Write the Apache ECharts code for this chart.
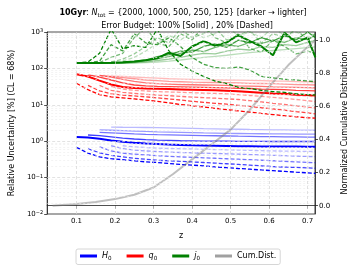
<!DOCTYPE html>
<html><head><meta charset="utf-8">
<script src="https://cdn.jsdelivr.net/npm/echarts@6/dist/echarts.min.js"></script>
<style>html,body{margin:0;padding:0;background:#fff}#c{width:357px;height:268px}</style>
</head><body><div id="c"></div>
<script>
// ---------------- data ----------------
const zGrid = [0.10,0.13,0.16,0.19,0.22,0.25,0.28,0.31,0.34,0.37,0.40,0.43,0.46,0.49,0.52,0.55,0.58,0.61,0.64,0.67,0.70,0.72];
const nTot = [2000, 1000, 500, 250, 125];

// H0, error budget 100% (solid), darker -> lighter
const H0_100 = [
  [1.30,1.27,1.17,1.05,0.97,0.91,0.87,0.84,0.81,0.79,0.77,0.76,0.75,0.74,0.73,0.73,0.72,0.72,0.71,0.71,0.70,0.70],
  [null,1.48,1.42,1.32,1.22,1.15,1.10,1.07,1.05,1.03,1.02,1.01,1.00,1.00,0.99,0.99,0.99,0.98,0.98,0.98,0.98,0.98],
  [null,null,1.75,1.70,1.64,1.58,1.54,1.51,1.49,1.47,1.45,1.43,1.41,1.39,1.37,1.36,1.34,1.33,1.32,1.31,1.30,1.30],
  [null,null,2.05,2.00,1.95,1.90,1.85,1.81,1.78,1.75,1.72,1.69,1.67,1.65,1.63,1.61,1.60,1.59,1.58,1.57,1.56,1.56],
  [null,null,null,2.45,2.42,2.40,2.38,2.36,2.33,2.30,2.26,2.22,2.19,2.16,2.13,2.10,2.08,2.06,2.04,2.02,2.01,2.00]
];
// H0, error budget 20% (dashed)
const H0_20 = [
  [0.68,0.47,0.37,0.33,0.31,0.29,0.27,0.26,0.245,0.23,0.22,0.21,0.197,0.187,0.178,0.17,0.162,0.155,0.148,0.141,0.135,0.131],
  [null,0.62,0.48,0.41,0.37,0.34,0.32,0.30,0.29,0.28,0.27,0.26,0.25,0.24,0.23,0.22,0.21,0.20,0.195,0.19,0.185,0.18],
  [null,null,0.70,0.54,0.47,0.44,0.42,0.40,0.385,0.37,0.36,0.35,0.34,0.33,0.32,0.31,0.30,0.29,0.28,0.27,0.26,0.256],
  [null,null,null,0.75,0.63,0.57,0.54,0.52,0.50,0.49,0.48,0.47,0.46,0.45,0.44,0.43,0.42,0.41,0.40,0.39,0.38,0.375],
  [null,null,null,null,0.75,0.70,0.67,0.65,0.63,0.62,0.61,0.60,0.59,0.58,0.57,0.56,0.55,0.54,0.535,0.53,0.525,0.52]
];
// q0, 100% (solid)
const q0_100 = [
  [69,60,46,36,31,29,28,27.5,27,26.5,26,25.5,25,24.5,23.5,22.5,21.5,20.5,20,19,18.5,18],
  [null,66,58,48,40,35,33,32,31.5,31,30.5,30,29.5,29,28.5,28,27,26.5,26,25,24.5,24],
  [null,null,64,58,50,44,40,38,37,36,35.5,35,34.5,34,33,32.5,32,31,30.5,30,29.5,29],
  [null,null,62,60,56,52,48,46,44,43,42,41.5,41,40.5,40,39,38.5,38,37,36,35.5,35],
  [null,null,null,61,60,58,56,54,52,51,50,49,48.5,48,47.5,47,46,45,44.5,43.5,43,42]
];
// q0, 20% (dashed)
const q0_20 = [
  [39,26,19,16.5,15.5,14.5,13.5,12.5,11.3,10.2,9.4,8.7,8.0,7.4,6.8,6.3,5.8,5.4,5.0,4.7,4.4,4.3],
  [null,34,24,20,18.5,17.5,16.5,15.5,14.5,13.5,12.5,11.7,11,10.4,9.7,9,8.3,7.7,7.1,6.5,6.0,5.6],
  [null,null,34,25,22,20.5,19.5,18.5,17.8,17,16.3,15.7,15.2,14.6,14,13,12,11,10.2,9.4,8.6,8.2],
  [null,null,null,32,27,25,24,23,22.5,22,21.5,21,20.5,20,19,18,17,16,15,14,13,12.2],
  [null,null,null,null,30,29,28,27.5,27,26.5,26,25.5,25,24,23,22,21,20,19,18,17.3,16.7]
];
// j0, 100% (solid)
const j0_100 = [
  [140,140,141,143,147,155,168,190,270,220,400,560,420,520,820,560,400,230,950,520,700,200],
  [null,138,140,142,146,155,170,210,240,300,280,400,470,380,600,500,700,560,800,600,1000,700],
  [null,null,138,140,143,150,165,185,210,260,320,290,380,450,400,520,480,600,520,700,620,800],
  [null,null,137,138,140,145,152,165,180,200,230,260,250,300,340,320,400,380,450,420,520,600],
  [null,null,null,137,138,140,145,150,158,170,185,200,215,230,250,270,290,310,330,350,370,390]
];
// j0, 20% (dashed)
const j0_20 = [
  [140,150,260,1200,350,420,380,1200,300,130,85,60,45,38,30,28,25,23,22,20,19,18.6],
  [null,140,160,450,300,900,500,450,700,400,200,130,105,100,110,90,60,55,50,48,45,43],
  [null,null,145,200,260,700,1300,500,400,900,600,1500,700,500,900,350,280,600,400,250,300,260],
  [null,null,null,150,180,250,400,700,500,1200,700,900,1300,600,800,1100,500,900,700,1200,600,900],
  [null,null,null,null,160,200,300,500,800,600,1000,700,900,1400,800,1000,700,1300,800,1000,700,900]
];
// cumulative distribution (right axis)
const cumZ = [0.038,0.10,0.15,0.20,0.25,0.30,0.35,0.40,0.45,0.50,0.55,0.60,0.65,0.70,0.72];
const cumV = [0.0,0.01,0.022,0.04,0.066,0.11,0.19,0.28,0.37,0.46,0.58,0.72,0.85,0.96,1.0];

const xTicks = [0.1,0.2,0.3,0.4,0.5,0.6,0.7];
const yRightTicks = [0.0,0.2,0.4,0.6,0.8,1.0];
const yMajor = [0.1,1,10,100];
const legendNames = ['H0','q0','j0','Cum.Dist.'];

// ---------------- build ----------------
const FONT = 'DejaVu Sans';
const alphas = [1, 0.75, 0.55, 0.4, 0.27];
const params = [
  {key:'H0', rgb:'0,0,255', s:H0_100, d:H0_20},
  {key:'q0', rgb:'255,0,0', s:q0_100, d:q0_20},
  {key:'j0', rgb:'0,128,0', s:j0_100, d:j0_20}
];
const yMinor = [];
for (let k=-2;k<=2;k++) for (let d=2; d<=9; d++) yMinor.push(+(d*Math.pow(10,k)).toPrecision(3));

const series = [];
series.push({
  type:'line', name:'_grid', data:[], yAxisIndex:0, z:1, silent:true,
  markLine:{silent:true, animation:false, symbol:['none','none'], label:{show:false},
    data: [
      ...yMinor.map(v=>({yAxis:v, lineStyle:{color:'#ebebeb', width:0.6, type:[2,2]}})),
      ...yMajor.map(v=>({yAxis:v, lineStyle:{color:'#d6d6d6', width:0.7, type:[3,2]}})),
      ...xTicks.map(v=>({xAxis:v, lineStyle:{color:'#d6d6d6', width:0.7, type:[3,2]}}))
    ]}
});
params.forEach(p=>{
  for (let k=0;k<5;k++){
    const col = `rgba(${p.rgb},${alphas[k]})`;
    series.push({type:'line', name: k===0 ? p.key : p.key+'_'+nTot[k]+'_100', yAxisIndex:0,
      data: zGrid.map((z,i)=>[z, p.s[k][i]]), symbol:'none', silent:true, z:3,
      color: col, lineStyle:{color:col, width: k===0?2:1.3, type:'solid'}});
    series.push({type:'line', name: p.key+'_'+nTot[k]+'_20', yAxisIndex:0,
      data: zGrid.map((z,i)=>[z, p.d[k][i]]), symbol:'none', silent:true, z:3,
      color: col, lineStyle:{color:col, width:1.3, type:[4,2]}});
  }
});
series.push({type:'line', name:'Cum.Dist.', yAxisIndex:1, data: cumZ.map((z,i)=>[z,cumV[i]]),
  symbol:'none', silent:true, z:4, color:'rgba(128,128,128,0.5)', lineStyle:{color:'rgba(128,128,128,0.5)', width:2}});

const supFmt = v => {
  const e = Math.round(Math.log10(v));
  return '10{sup|' + (e<0 ? '\u2212'+(-e) : e) + '}';
};
const legendLabel = {H0:'{i|H}{s|0}', q0:'{i|q}{s|0}', j0:'{i|j}{s|0}', 'Cum.Dist.':'{n|Cum.Dist.}'};

const chart = echarts.init(document.getElementById('c'), null, {renderer:'canvas'});
chart.setOption({
  animation:false,
  backgroundColor:'#fff',
  title:[
    {text:'{b|10Gyr}: {i|N}{s|tot} = {2000, 1000, 500, 250, 125} [darker \u2192 lighter]',
     left:178, top:2, textAlign:'center',
     textStyle:{fontFamily:FONT, fontSize:8, color:'#000', fontWeight:'normal', lineHeight:12,
       rich:{b:{fontWeight:'bold',fontSize:8,fontFamily:FONT,lineHeight:12},
             i:{fontStyle:'italic',fontSize:8,fontFamily:FONT,lineHeight:12},
             s:{fontSize:5.6,fontFamily:FONT,lineHeight:6,verticalAlign:'bottom'}}}},
    {text:'Error Budget: 100% [Solid] , 20% [Dashed]', left:182, top:17, textAlign:'center',
     textStyle:{fontFamily:FONT, fontSize:8, color:'#000', fontWeight:'normal'}}
  ],
  grid:{left:43, right:36, top:32, bottom:54, show:true, borderColor:'#222', borderWidth:0.8, backgroundColor:'transparent'},
  legend:{
    data: legendNames.map(n=>({name:n, itemStyle:{color: n==='H0'?'#0000ff': n==='q0'?'#ff0000': n==='j0'?'#008000':'rgba(128,128,128,0.75)'}})),
    icon:'rect', itemWidth:17, itemHeight:3, itemGap:15,
    left:76, top:249, padding:[3,4,3,4],
    borderColor:'#cccccc', borderWidth:0.8, borderRadius:2,
    formatter: n => legendLabel[n],
    textStyle:{fontFamily:FONT, fontSize:8, color:'#000',
      rich:{i:{fontStyle:'italic',fontSize:8,fontFamily:FONT,lineHeight:11},
            n:{fontSize:8,fontFamily:FONT,lineHeight:11},
            s:{fontSize:5.6,fontFamily:FONT,lineHeight:6,verticalAlign:'bottom'}}}
  },
  xAxis:{type:'value', min:0.024, max:0.719, name:'z', nameLocation:'middle', nameGap:18,
    nameTextStyle:{fontFamily:FONT, fontSize:8, color:'#000'},
    axisLine:{show:true, lineStyle:{color:'#222', width:0.8}},
    axisTick:{show:true, length:3, customValues:xTicks, lineStyle:{color:'#222', width:0.8}},
    axisLabel:{customValues:xTicks, formatter:v=>v.toFixed(1), fontFamily:FONT, fontSize:7, color:'#000', margin:4},
    splitLine:{show:false}},
  yAxis:[
    {type:'log', logBase:10, min:0.01, max:1000, position:'left',
     name:'Relative Uncertainty [%] (CL = 68%)', nameLocation:'middle', nameGap:28,
     nameTextStyle:{fontFamily:FONT, fontSize:8, color:'#000'},
     axisLine:{show:true, lineStyle:{color:'#222', width:0.8}},
     axisTick:{show:true, length:3, lineStyle:{color:'#222', width:0.8}},
     axisLabel:{formatter:supFmt, fontFamily:FONT, fontSize:7, color:'#000', margin:4,
       rich:{sup:{fontSize:5,fontFamily:FONT,verticalAlign:'top',lineHeight:5}}},
     splitLine:{show:false}},
    {type:'value', min:-0.05, max:1.05, position:'right',
     name:'Normalized Cumulative Distribution', nameLocation:'middle', nameGap:24, nameRotate:90,
     nameTextStyle:{fontFamily:FONT, fontSize:8, color:'#000'},
     axisLine:{show:true, lineStyle:{color:'#222', width:0.8}},
     axisTick:{show:true, length:3, customValues:yRightTicks, lineStyle:{color:'#222', width:0.8}},
     axisLabel:{customValues:yRightTicks, formatter:v=>v.toFixed(1), fontFamily:FONT, fontSize:7, color:'#000', margin:4},
     splitLine:{show:false}}
  ],
  series
});
</script>
</body></html>
